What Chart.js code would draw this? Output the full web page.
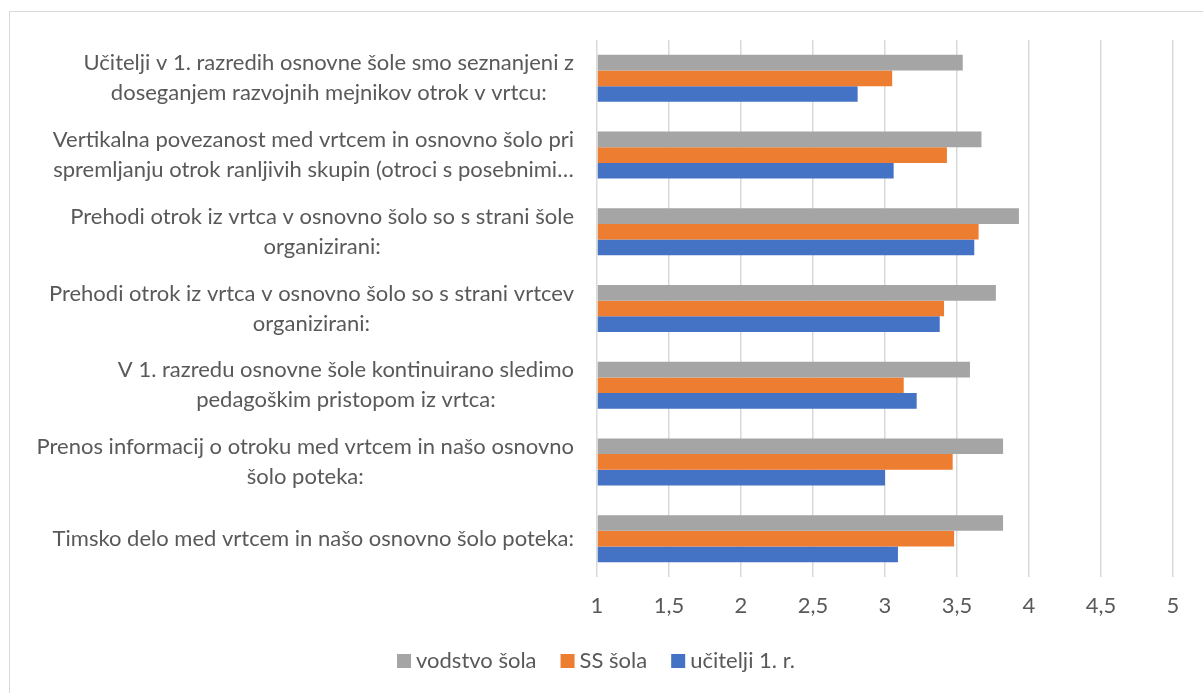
<!DOCTYPE html>
<html>
<head>
<meta charset="utf-8">
<script src="https://cdn.jsdelivr.net/npm/chart.js@4"></script>
<style>
  html, body { margin: 0; padding: 0; background: #fff; }
  #wrap { width: 1203px; height: 693px; }
</style>
</head>
<body>
<div id="wrap"><canvas id="myChart"></canvas></div>
<script>
// categories top to bottom, each split into the lines shown in the chart
var categories = [
  ['Učitelji v 1. razredih osnovne šole smo seznanjeni z', 'doseganjem razvojnih mejnikov otrok v vrtcu:'],
  ['Vertikalna povezanost med vrtcem in osnovno šolo pri', 'spremljanju otrok ranljivih skupin (otroci s posebnimi…'],
  ['Prehodi otrok iz vrtca v osnovno šolo so s strani šole', 'organizirani:'],
  ['Prehodi otrok iz vrtca v osnovno šolo so s strani vrtcev', 'organizirani:'],
  ['V 1. razredu osnovne šole kontinuirano sledimo', 'pedagoškim pristopom iz vrtca:'],
  ['Prenos informacij o otroku med vrtcem in našo osnovno', 'šolo poteka:'],
  ['Timsko delo med vrtcem in našo osnovno šolo poteka:']
];

var vodstvoSola = [3.54, 3.67, 3.93, 3.77, 3.59, 3.82, 3.82];
var ssSola      = [3.05, 3.43, 3.65, 3.41, 3.13, 3.47, 3.48];
var uciteljiR1  = [2.81, 3.06, 3.62, 3.38, 3.22, 3.00, 3.09];

var seriesNames = ['vodstvo šola', 'SS šola', 'učitelji 1. r.'];
var xTicks = [1, 1.5, 2, 2.5, 3, 3.5, 4, 4.5, 5];

var FONT = 'Lato';
var TEXT = '#595959';

// white page + the thin frame round the chart
const frame = {
  id: 'frame',
  beforeDraw(chart) {
    const c = chart.ctx;
    c.save();
    c.fillStyle = '#fff';
    c.fillRect(0, 0, chart.width, chart.height);
    c.strokeStyle = '#d9d9d9';
    c.lineWidth = 1;
    c.strokeRect(9.5, 11.5, chart.width + 20, chart.height + 20);
    c.restore();
  }
};

// category labels: block right aligned to the axis, lines centred in the block
const catLabels = {
  id: 'catLabels',
  afterDraw(chart) {
    const c = chart.ctx;
    const y = chart.scales.y;
    c.save();
    c.font = '22px ' + FONT;
    c.fillStyle = TEXT;
    c.textAlign = 'center';
    c.textBaseline = 'middle';
    var right = chart.chartArea.left - 23;
    var lh = 30;
    categories.forEach((lines, i) => {
      var w = Math.max(...lines.map(l => c.measureText(l).width));
      var cx = right - w / 2;
      var cy = y.getPixelForTick(i) - (lines.length - 1) * lh / 2;
      lines.forEach((l, k) => c.fillText(l, cx, cy + k * lh));
    });
    c.restore();
  }
};

// legend drawn by hand so the box/text spacing is like the original
const bottomLegend = {
  id: 'bottomLegend',
  afterDraw(chart) {
    const c = chart.ctx;
    c.save();
    c.font = '22px ' + FONT;
    c.textBaseline = 'middle';
    c.textAlign = 'left';
    var box = 14, gap = 5, space = 24, cy = 661;
    var items = chart.data.datasets.map(d => ({ text: d.label, color: d.backgroundColor, w: c.measureText(d.label).width }));
    var total = items.reduce((s, it) => s + box + gap + it.w, 0) + space * (items.length - 1);
    var x = 596 - total / 2;
    items.forEach(it => {
      c.fillStyle = it.color;
      c.fillRect(x, cy - box / 2, box, box);
      c.fillStyle = TEXT;
      c.fillText(it.text, x + box + gap, cy);
      x += box + gap + it.w + space;
    });
    c.restore();
  }
};

new Chart(document.getElementById('myChart'), {
  type: 'bar',
  data: {
    labels: categories.map(l => l.join(' ')),
    datasets: [
      { label: seriesNames[0], data: vodstvoSola, backgroundColor: '#a5a5a5' },
      { label: seriesNames[1], data: ssSola, backgroundColor: '#ed7d31' },
      { label: seriesNames[2], data: uciteljiR1, backgroundColor: '#4472c4' }
    ]
  },
  options: {
    indexAxis: 'y',
    responsive: true,
    maintainAspectRatio: false,
    animation: false,
    datasets: { bar: { categoryPercentage: 0.613, barPercentage: 1, base: 1 } },
    layout: { padding: { top: 40, right: 30, bottom: 60, left: 0 } },
    scales: {
      x: {
        min: 1, max: 5,
        afterBuildTicks: s => { s.ticks = xTicks.map(v => ({ value: v })); },
        border: { display: false },
        grid: { color: '#d9d9d9', lineWidth: 1.5, drawTicks: false },
        ticks: {
          color: TEXT, padding: 16,
          font: { family: FONT, size: 22 },
          callback: v => String(v).replace('.', ',')
        },
        afterFit: s => { s.height = 56; }
      },
      y: {
        grid: { display: false },
        border: { display: false },
        ticks: { display: false },
        afterFit: s => { s.width = 597; }
      }
    },
    plugins: {
      legend: { display: false },
      tooltip: { enabled: false }
    }
  },
  plugins: [frame, catLabels, bottomLegend]
});
</script>
</body>
</html>
